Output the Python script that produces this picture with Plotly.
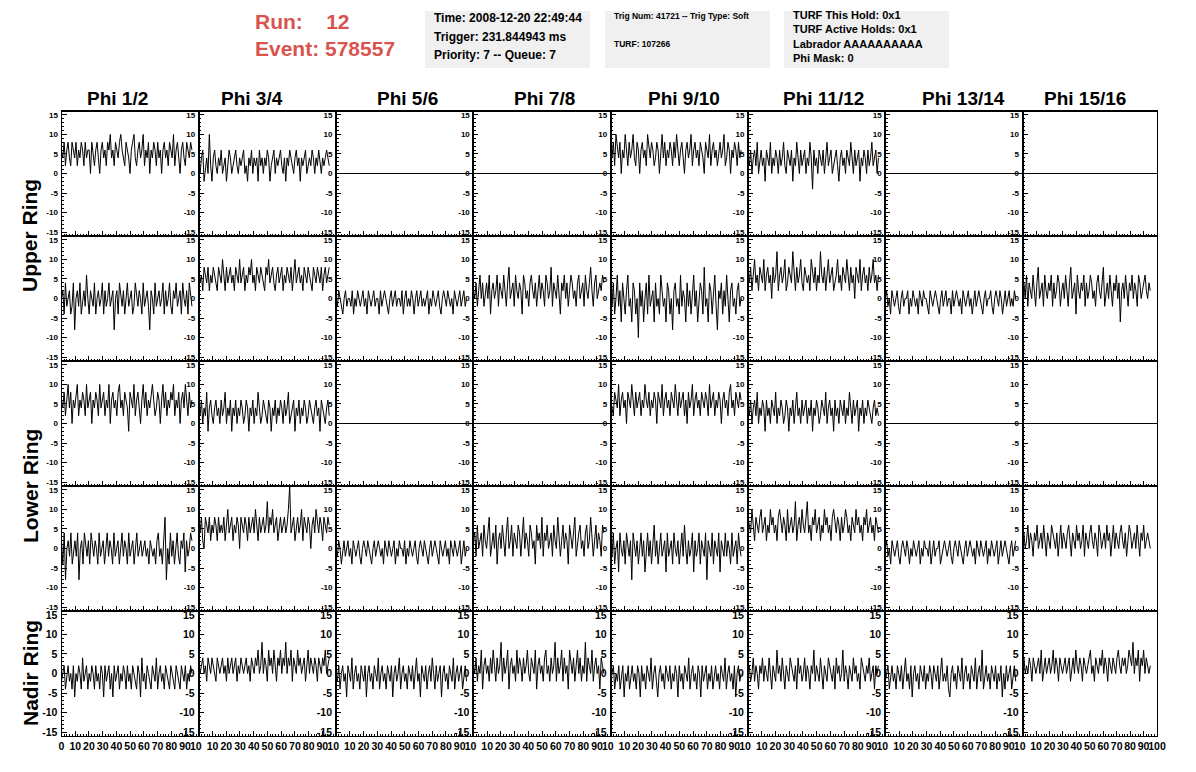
import plotly.graph_objects as go

# ---------------- data (ADC counts) ----------------
PHI_LABELS = ["Phi 1/2", "Phi 3/4", "Phi 5/6", "Phi 7/8",
              "Phi 9/10", "Phi 11/12", "Phi 13/14", "Phi 15/16"]
RING_LABELS = ["Upper Ring", "Lower Ring", "Nadir Ring"]
X_TICKS = [0, 10, 20, 30, 40, 50, 60, 70, 80, 90, 100]
Y_TICKS = [-15, -10, -5, 0, 5, 10, 15]
T_END = 95.0          # time of last sample (ns)
FLAT_T = [0, 100]     # dead channels: constant zero
FLAT_V = [0, 0]

UPPER_TOP = [
    [6,4,8,2,6,8,4,2,8,6,4,8,2,6,4,8,6,2,8,4,6,6,0,8,4,2,6,8,4,0,6,8,4,6,2,8,6,10,4,6,2,8,6,4,8,10,6,4,2,8,6,4,0,6,8,10,4,2,6,8,4,6,10,2,6,4,8,0,6,4,8,6,2,8,4,6,0,6,8,4,6,2,8,6,4,10,2,6,8,4,0,6,8,4,2,8,6,4,8,6],
    [2,0,4,6,-2,2,4,0,10,2,-2,4,6,2,0,4,2,6,0,2,4,-2,2,6,4,0,2,4,6,2,0,4,2,4,6,0,2,-2,4,2,6,0,4,2,4,-2,6,2,4,0,4,2,6,4,-2,2,4,6,0,4,2,4,6,2,0,4,-2,4,2,6,4,2,0,4,6,2,4,-2,4,2,4,6,0,2,4,2,6,4,0,4,2,6,2,0,4,2,4,6,4,2],
    None,
    None,
    [6,4,8,2,10,6,4,8,0,6,4,10,6,2,8,4,6,10,4,2,8,6,0,6,8,4,6,2,10,6,4,8,6,2,4,8,6,0,6,10,4,8,2,6,4,8,6,2,8,4,10,6,2,6,8,4,0,6,8,4,6,10,2,6,8,4,6,2,8,6,4,0,8,6,4,10,2,6,8,4,6,2,6,8,4,6,10,2,4,8,6,0,6,4,8,6,2,8,4,6],
    [4,2,6,0,4,6,2,8,0,4,6,2,4,-2,6,4,2,8,0,4,2,6,4,0,6,2,4,8,2,0,6,4,2,6,-2,4,2,8,4,0,6,2,4,6,0,4,2,8,4,-4,6,2,4,0,6,4,2,6,0,4,8,2,4,6,0,2,4,6,2,-2,4,6,2,4,0,6,4,2,8,4,0,6,2,4,6,-2,4,2,6,4,0,6,2,4,8,2,4,6,0,4],
    None,
    None,
]

UPPER_BOTTOM = [
    [0,2,-4,4,-2,0,2,-4,-2,4,-8,0,2,-2,4,-4,0,2,-2,6,0,-4,2,0,-2,4,-4,0,2,-2,0,4,-4,2,-2,0,4,-2,0,2,-8,0,2,-4,4,0,-2,2,-4,0,4,-2,0,2,-4,-2,4,0,-2,2,0,-4,4,-2,0,2,-2,-8,2,0,-4,4,-2,0,2,-2,0,4,-4,2,-2,0,4,-2,-4,2,0,4,-2,0,2,-4,4,0,-2,2,-4,4,0,-2],
    [8,4,6,2,8,6,4,8,2,6,4,8,6,4,2,8,6,4,10,6,2,8,4,6,8,4,6,2,8,6,4,10,4,6,8,2,6,4,8,6,10,4,6,2,8,6,4,8,6,4,2,8,6,10,4,6,8,4,2,6,8,4,6,8,2,6,4,8,6,4,8,2,6,10,4,6,8,4,6,2,8,6,4,8,6,4,2,8,6,4,8,6,4,8,2,6,8,4,6,8],
    [0,-2,2,0,-2,-4,0,2,-2,0,0,-2,2,-4,0,-2,2,0,-2,0,2,-2,0,-4,2,0,-2,0,2,-2,0,0,-4,2,-2,0,2,0,-2,-4,0,2,-2,0,2,-2,0,0,-2,2,-4,0,2,-2,0,-2,2,0,-4,0,2,-2,0,2,-2,0,-2,0,2,-4,0,-2,2,0,-2,0,2,-2,-4,0,2,0,-2,2,0,-2,0,-4,2,0,-2,0,2,-2,0,2,-2,0],
    [2,0,4,-2,2,6,0,4,-2,2,4,0,6,-4,2,4,0,2,6,-2,4,2,0,6,2,-2,4,8,0,2,4,-2,6,2,0,4,2,-4,6,4,0,2,-2,4,6,2,0,4,-2,2,6,0,4,2,-2,6,4,0,2,8,-2,4,2,0,6,2,-4,4,2,6,0,4,-2,2,6,4,0,2,-2,4,6,0,2,4,-2,6,2,0,4,8,2,-2,4,6,0,2,4,2,6,4],
    [2,-2,4,-4,0,6,-2,2,-6,4,0,-4,2,6,-2,0,-6,4,2,-4,0,-10,4,-2,2,-6,0,4,-4,6,-2,0,2,-6,4,-2,0,-4,6,2,-2,0,-6,4,2,-4,0,-8,2,4,-2,0,-4,6,-2,2,0,-6,4,-2,2,-4,0,6,-2,2,-6,0,4,2,-4,8,-2,0,-6,4,2,-4,0,6,-2,-8,2,0,4,-4,2,-2,6,0,-6,2,4,-2,0,-4,2,4,-2,0],
    [6,4,8,2,6,10,4,6,2,8,6,4,10,2,6,8,4,6,0,8,4,6,12,2,6,8,4,6,10,2,4,8,6,4,12,6,2,8,4,6,10,4,2,8,6,4,6,2,10,6,4,8,2,6,4,12,6,4,8,2,6,10,4,6,8,2,4,6,10,4,6,2,8,6,4,10,6,2,8,4,6,0,8,6,4,10,2,6,8,4,6,2,8,4,6,10,4,6,2,6],
    [0,2,-2,0,-4,2,0,-2,0,2,-2,-4,0,2,-2,0,0,2,-4,0,-2,2,0,-2,0,-4,2,0,-2,2,0,0,-2,-4,2,0,-2,0,2,0,-2,-4,0,2,-2,0,2,-2,0,0,-4,2,-2,0,2,0,-2,0,-4,2,0,-2,0,2,-2,0,-4,0,2,-2,0,2,0,-2,-4,0,2,-2,0,0,2,-2,-4,0,2,0,-2,2,0,-4,0,2,-2,0,2,-2,0,-2,2,0],
    [2,4,0,6,-2,4,2,0,6,2,-2,4,8,0,2,4,-2,6,2,0,4,2,6,-2,4,0,2,6,4,-2,2,4,0,6,2,-2,4,8,0,2,4,-4,6,2,0,4,2,6,-2,4,0,2,6,4,0,2,-2,4,6,2,0,4,8,-2,2,4,0,6,2,-2,4,2,6,0,4,-6,2,4,0,6,2,-2,4,2,6,0,4,2,-2,6,4,0,2,4,6,2,0,4,2],
]

LOWER_TOP = [
    [6,4,8,2,6,10,4,8,0,6,4,8,10,2,6,4,8,6,2,10,4,6,8,0,6,4,8,6,2,10,4,6,8,2,6,4,10,0,6,8,4,6,2,8,10,4,6,2,8,6,4,-2,8,6,4,10,2,6,8,4,0,6,10,4,8,2,6,4,8,10,6,2,4,8,6,0,6,10,4,8,2,6,4,8,6,10,2,6,4,8,0,6,8,4,10,6,2,8,4,6],
    [4,2,6,0,4,2,8,-2,4,6,2,0,4,6,2,4,0,6,2,4,8,0,4,2,6,-2,4,2,6,0,4,2,6,4,0,2,6,4,-2,4,2,6,0,4,2,8,4,0,2,6,4,2,0,6,4,-2,4,2,6,0,4,2,6,4,0,6,2,4,8,0,2,4,6,-2,4,2,6,0,4,2,6,4,0,2,6,4,2,0,4,6,2,4,-2,6,4,2,0,4,6,2],
    None,
    None,
    [6,4,2,8,6,4,10,2,6,8,4,6,0,8,6,4,10,6,2,8,4,6,8,2,6,4,10,6,4,8,2,6,4,8,6,0,8,6,4,10,2,6,8,4,6,2,8,6,4,10,6,2,8,4,6,8,2,6,0,8,4,6,10,2,6,8,4,6,2,8,6,4,8,6,2,10,4,6,8,2,6,4,8,6,0,6,8,4,6,2,8,10,4,6,2,8,6,4,8,6],
    [4,2,6,0,4,6,2,8,0,4,2,6,4,-2,6,2,4,0,6,4,2,8,0,4,2,6,4,0,2,6,4,-2,4,2,6,0,4,8,2,4,0,6,2,4,6,0,4,2,6,-2,4,2,6,4,0,2,6,4,2,8,0,4,6,2,4,-2,6,2,4,0,6,4,2,6,0,4,2,8,4,0,6,2,4,6,-2,4,2,6,0,4,2,6,4,2,0,4,6,2,4,2],
    None,
    None,
]

LOWER_BOTTOM = [
    [2,-4,4,-8,0,2,-2,4,-4,0,2,-2,4,-8,0,2,-4,4,0,-2,2,-4,4,0,-2,2,0,-4,4,-2,0,2,-4,0,4,-2,2,0,-4,4,-2,0,2,-4,0,4,-2,2,0,-4,4,-2,0,2,-4,0,4,-2,0,2,-2,0,2,-2,0,-4,2,0,-2,0,-4,2,4,-2,0,-4,2,8,-8,0,-4,4,-2,2,-4,0,4,-2,-4,2,0,4,-6,2,-2,0,4,2],
    [6,4,8,2,0,8,6,4,8,2,6,4,8,6,2,8,4,6,4,8,2,6,10,4,6,8,2,6,4,8,6,0,8,6,4,8,6,2,8,4,6,8,4,10,6,2,8,4,6,8,4,6,12,4,8,6,10,4,6,8,2,6,8,4,6,8,4,6,10,16,4,6,8,2,6,8,4,6,10,2,8,6,4,8,6,0,6,8,4,10,6,4,8,6,2,8,6,4,8,6],
    [0,-2,2,0,-4,0,2,-2,0,2,-2,0,-4,2,0,-2,0,2,-2,-4,0,2,0,-2,2,0,-2,-4,0,2,-2,0,2,0,-2,0,-4,2,0,-2,2,0,-2,0,2,-4,0,-2,2,0,0,-2,2,-4,0,-2,2,0,-2,0,2,-2,-4,0,2,0,-2,2,0,-2,-4,0,2,-2,0,2,0,-2,-4,2,0,-2,0,2,-2,0,-4,2,0,-2,2,0,-2,0,2,-4,0,2,-2,0],
    [2,4,-2,6,0,2,4,-2,6,2,0,4,8,-2,2,4,0,6,-4,2,4,0,6,2,-2,4,8,0,2,6,-2,4,2,0,6,4,-2,2,8,0,4,2,-2,6,4,0,2,-4,6,2,4,0,8,-2,4,2,6,0,2,4,-2,6,2,0,8,4,-2,2,6,0,4,2,-4,6,2,0,4,8,-2,2,4,6,0,2,-2,4,6,0,2,8,4,-2,2,6,0,4,2,-2,6,4],
    [2,-2,4,-4,0,2,-6,4,0,-2,2,-4,4,0,-2,2,-8,4,0,-2,2,-4,0,4,-2,2,-6,0,4,-2,2,-4,0,6,-2,2,-4,0,4,-2,0,2,-6,4,-2,0,2,-4,4,0,-2,2,-4,0,4,-2,6,0,-4,2,-2,0,4,-6,2,-2,0,4,-4,2,0,-2,4,-8,2,0,-2,4,-4,2,0,-2,4,-6,2,0,-2,4,-2,2,0,-4,4,-2,0,2,-4,4,0,-2],
    [8,6,4,10,6,2,8,6,4,8,10,4,6,8,2,6,4,10,6,8,4,6,2,8,10,6,4,8,6,2,10,4,6,8,4,6,12,2,6,8,4,10,6,4,8,12,4,6,2,8,6,10,4,6,8,2,6,4,10,6,8,4,6,2,8,10,6,4,8,6,2,8,4,6,10,8,4,6,2,8,6,4,10,6,8,4,6,2,8,6,10,4,6,8,4,6,2,8,6,4],
    [0,2,-2,0,-4,2,0,-2,0,2,-2,-4,0,2,0,-2,2,0,-4,0,-2,2,0,-2,0,2,-4,0,-2,2,0,0,-2,2,-4,0,2,-2,0,0,2,-4,-2,0,2,0,-2,0,2,-2,-4,0,2,0,-2,2,0,-2,-4,0,2,-2,0,2,0,-2,0,-4,2,0,-2,2,0,-2,0,2,-4,0,-2,2,0,-2,0,2,-4,0,2,-2,0,2,0,-2,-4,0,2,-2,0,2],
    [2,4,0,2,6,0,4,2,-2,4,2,6,0,2,4,0,6,2,-2,4,2,0,6,4,2,0,4,-2,2,6,0,4,2,0,4,6,2,-2,4,2,0,6,2,4,0,2,6,-2,4,2,0,4,6,2,0,4,2,-2,6,4,0,2,4,0,6,2,4,-2,2,6,0,4,2,0,4,6,2,0,4,-2,2,6,4,0,2,4,0,6,2,-2,4,2,6,0,2,4,2,0],
]

NADIR = [
    [-2,0,2,-4,0,2,-2,0,-4,2,-6,0,-2,2,0,-4,4,-2,0,2,-4,0,-2,2,0,-4,2,-2,0,-4,2,0,-6,2,-2,0,2,-4,0,-6,2,-2,0,2,-4,0,-2,2,0,-4,2,-2,0,-4,2,0,-2,-4,2,0,-6,4,-2,0,-4,2,0,-2,-4,2,0,-2,4,-4,0,2,-2,0,-4,2,0,-2,-4,2,0,-2,-4,2,0,-2,-4,2,0,-2,2,-4,0,-2,2,0],
    [2,0,2,4,0,2,-2,4,2,0,4,2,0,-2,4,2,0,2,4,0,2,-2,4,0,2,4,0,2,4,-2,2,0,4,2,0,2,4,0,2,-2,4,2,0,4,2,6,0,2,8,0,4,2,-2,6,2,4,0,6,2,-2,4,2,6,0,4,2,8,0,4,2,6,-2,4,2,0,6,2,4,0,2,4,-2,2,6,0,4,2,0,4,2,-2,4,2,0,4,2,6,0,2,4],
    [0,-2,2,-4,0,2,-2,0,-6,2,0,-2,4,-4,0,2,-2,0,-4,2,0,-2,2,-6,0,2,-2,0,-4,2,0,-2,4,-4,0,2,-2,0,-4,2,0,-2,2,-6,0,2,-2,0,4,-4,0,2,-2,0,-4,2,0,-2,2,-4,0,4,-2,0,-6,2,0,-2,2,-4,0,2,-2,4,0,-4,2,-2,0,2,-6,0,2,-2,0,-4,2,0,-2,4,-4,0,2,-2,0,2,-4,0,2,-2],
    [2,0,4,-2,2,0,6,-4,2,4,0,2,-2,4,0,6,2,-2,4,0,2,8,-2,4,0,2,6,-4,2,4,0,2,-2,6,0,4,2,-2,4,0,2,6,0,-2,4,2,0,6,-4,2,4,0,2,-2,4,6,0,2,-2,4,0,2,8,-2,4,0,2,6,-2,4,0,2,-4,6,2,0,4,-2,2,6,0,4,-2,2,0,8,-2,4,2,0,6,-2,2,4,0,2,-4,4,2,0],
    [-2,0,2,-4,0,-2,2,-4,0,2,-6,0,-2,2,-4,0,2,-2,0,-4,2,0,-6,2,-2,0,-4,2,0,-2,4,-4,0,2,-2,-6,0,2,-2,0,-4,2,0,-2,2,-4,0,-2,2,0,-6,2,-2,0,-4,2,0,-2,4,-4,0,2,-2,0,-4,2,0,-6,2,-2,0,2,-4,0,-2,2,-4,0,2,-2,0,-4,2,0,-2,4,-4,0,2,-2,0,-4,2,-6,0,2,-2,0],
    [0,2,-2,0,4,-2,2,0,-4,2,0,4,-2,2,0,-2,4,0,-4,2,0,-2,6,0,2,-2,4,0,-4,2,0,-2,4,2,0,-2,2,-4,4,0,2,-2,0,4,-2,2,0,-4,2,0,6,-2,2,0,-2,4,0,-4,2,0,-2,4,2,0,-2,2,-4,4,0,2,-2,0,6,-2,2,0,-4,2,0,-2,4,0,2,-2,0,-4,4,2,0,-2,2,0,4,-2,0,2,-4,2,0,2],
    [-2,0,2,-4,0,2,-2,0,-4,2,0,-2,2,-4,0,4,-2,0,-4,2,-6,0,2,-2,0,-4,2,0,-2,2,-4,0,-2,2,0,-4,2,0,-2,2,-4,0,4,-2,0,-2,2,-4,-6,0,2,-2,0,-4,2,0,-2,4,-4,0,2,-2,0,-4,2,0,-2,4,-4,0,2,-2,6,-4,0,2,-2,0,-4,2,0,-2,2,-4,0,-2,2,-6,0,-4,2,-2,0,2,-4,0,2,-2],
    [2,4,0,2,0,4,2,-2,4,2,0,2,4,0,6,-2,2,4,0,2,4,0,2,6,0,4,2,-2,4,2,0,2,4,0,2,4,-2,2,4,0,6,2,0,4,2,-2,4,2,0,2,4,6,0,2,-2,4,2,0,4,2,6,0,4,2,-2,4,2,0,4,2,0,4,6,2,0,4,2,4,0,2,6,4,2,8,0,4,2,6,-2,4,2,6,0,4,2,0,2],
]

PANEL_ROWS = [UPPER_TOP, UPPER_BOTTOM, LOWER_TOP, LOWER_BOTTOM, NADIR]

# ---------------- layout geometry (pixels) ----------------
W_PX, H_PX = 1196, 772
LEFT0, COL_W, RIGHT_END = 61.5, 137.3, 1157.0
TOP0, ROW_H = 111.0, 125.0
FONT = "Liberation Sans, Arial, Helvetica, sans-serif"
RED = "#d9534f"


def px_x(p):
    return p / W_PX


def px_y(p):
    return 1 - p / H_PX


fig = go.Figure()
layout = dict(
    template="none",
    width=W_PX, height=H_PX,
    margin=dict(l=0, r=0, t=0, b=0, autoexpand=False),
    paper_bgcolor="white", plot_bgcolor="white",
    showlegend=False,
    font=dict(family=FONT, color="black"),
)

n_rows, n_cols = len(PANEL_ROWS), len(PHI_LABELS)
idx = 0
for r, row in enumerate(PANEL_ROWS):
    for c in range(n_cols):
        idx += 1
        xa = "x" if idx == 1 else f"x{idx}"
        ya = "y" if idx == 1 else f"y{idx}"
        vals = row[c]
        if vals is None:
            t, v = FLAT_T, FLAT_V
        else:
            n = len(vals)
            t = [T_END * i / (n - 1) for i in range(n)]
            v = vals
        fig.add_trace(go.Scatter(x=t, y=v, mode="lines", xaxis=xa, yaxis=ya,
                                 line=dict(color="black", width=1),
                                 hoverinfo="skip"))
        left = LEFT0 + COL_W * c
        right = RIGHT_END if c == n_cols - 1 else left + COL_W
        top = TOP0 + ROW_H * r
        bot = top + ROW_H
        bottom_row = (r == n_rows - 1)

        if bottom_row:
            tv = [v_ for v_ in X_TICKS if (v_ != 0 or c == 0)]
            tt = []
            for v_ in tv:
                if v_ == 100 and c < n_cols - 1:
                    tt.append("10\u2007")
                else:
                    tt.append(str(v_))
        else:
            tv, tt = X_TICKS, [str(v_) for v_ in X_TICKS]

        xax = dict(
            domain=[px_x(left), px_x(right)], range=[0, 100], anchor=ya,
            automargin=False,
            showgrid=False, zeroline=False,
            showline=True, mirror=True, linecolor="black", linewidth=1,
            ticks="inside", ticklen=5, tickcolor="black", tickwidth=1,
            tickmode="array", tickvals=tv, ticktext=tt, tickangle=0,
            minor=dict(ticks="inside", ticklen=2.5, tickcolor="black",
                       tickmode="linear", tick0=0, dtick=2, showgrid=False),
            showticklabels=bottom_row,
            tickfont=dict(family=FONT, size=10.5, color="black", weight="bold"),
            ticklabelstandoff=0,
            fixedrange=True,
        )
        yax = dict(
            domain=[px_y(bot), px_y(top)], range=[-16, 16], anchor=xa,
            automargin=False,
            showgrid=False, zeroline=False,
            showline=True, mirror=True, linecolor="black", linewidth=1,
            ticks="inside", ticklen=5, tickcolor="black", tickwidth=1,
            tickmode="array", tickvals=Y_TICKS,
            ticktext=[str(v_) for v_ in Y_TICKS], tickangle=0,
            minor=dict(ticks="inside", ticklen=2.5, tickcolor="black",
                       tickmode="linear", tick0=-16, dtick=1, showgrid=False),
            tickfont=dict(family=FONT, size=10.5 if bottom_row else 8,
                          color="black", weight="bold"),
            ticklabelstandoff=1,
            fixedrange=True,
        )
        layout["xaxis" if idx == 1 else f"xaxis{idx}"] = xax
        layout["yaxis" if idx == 1 else f"yaxis{idx}"] = yax

annotations = []
shapes = []

# column titles
TITLE_X_PX = [117, 252, 407, 544, 684, 823, 963, 1085]
for lab, xp in zip(PHI_LABELS, TITLE_X_PX):
    annotations.append(dict(text=lab, x=px_x(xp), y=px_y(98), xref="paper", yref="paper",
                            xanchor="center", yanchor="middle", showarrow=False,
                            font=dict(family=FONT, size=19, color="black", weight="bold")))

# ring labels
RING_Y_PX = [236, 486, 673]
for lab, yp in zip(RING_LABELS, RING_Y_PX):
    annotations.append(dict(text=lab, x=px_x(30), y=px_y(yp), xref="paper", yref="paper",
                            xanchor="center", yanchor="middle", showarrow=False, textangle=-90,
                            font=dict(family=FONT, size=21, color="black", weight="bold")))

# thicker row separators
for k in range(n_rows):
    yp = TOP0 + ROW_H * k
    shapes.append(dict(type="line", xref="paper", yref="paper",
                       x0=px_x(LEFT0), x1=px_x(RIGHT_END), y0=px_y(yp), y1=px_y(yp),
                       line=dict(color="black", width=2)))

# header: run / event
annotations.append(dict(text="Run:    12", x=px_x(253), y=px_y(22), xref="paper", yref="paper",
                        xanchor="left", yanchor="middle", showarrow=False,
                        font=dict(family=FONT, size=21, color=RED, weight="bold")))
annotations.append(dict(text="Event: 578557", x=px_x(253), y=px_y(48), xref="paper", yref="paper",
                        xanchor="left", yanchor="middle", showarrow=False,
                        font=dict(family=FONT, size=21, color=RED, weight="bold")))

# info boxes
BOXES = [
    (425, 590, [("Time: 2008-12-20 22:49:44", 18), ("Trigger: 231.844943 ms", 37),
                ("Priority: 7 -- Queue: 7", 55)], 12),
    (605, 770, [("Trig Num: 41721 -- Trig Type: Soft", 16), ("TURF: 107266", 44)], 8.5),
    (784, 949, [("TURF This Hold: 0x1", 15), ("TURF Active Holds: 0x1", 29),
                ("Labrador AAAAAAAAAA", 44), ("Phi Mask: 0", 58)], 11),
]
for x0, x1, lines, fs in BOXES:
    shapes.append(dict(type="rect", xref="paper", yref="paper",
                       x0=px_x(x0), x1=px_x(x1), y0=px_y(68), y1=px_y(11),
                       fillcolor="#f0f0f0", line=dict(width=0), layer="below"))
    for txt, yp in lines:
        annotations.append(dict(text=txt, x=px_x(x0 + 7), y=px_y(yp), xref="paper", yref="paper",
                                xanchor="left", yanchor="middle", showarrow=False,
                                font=dict(family=FONT, size=fs, color="black", weight="bold")))

layout["annotations"] = annotations
layout["shapes"] = shapes
fig.update_layout(**layout)
fig.write_html("out.html",
               config={"displayModeBar": False, "staticPlot": True},
               post_script="document.body.style.margin='0';document.body.style.overflow='hidden';")
